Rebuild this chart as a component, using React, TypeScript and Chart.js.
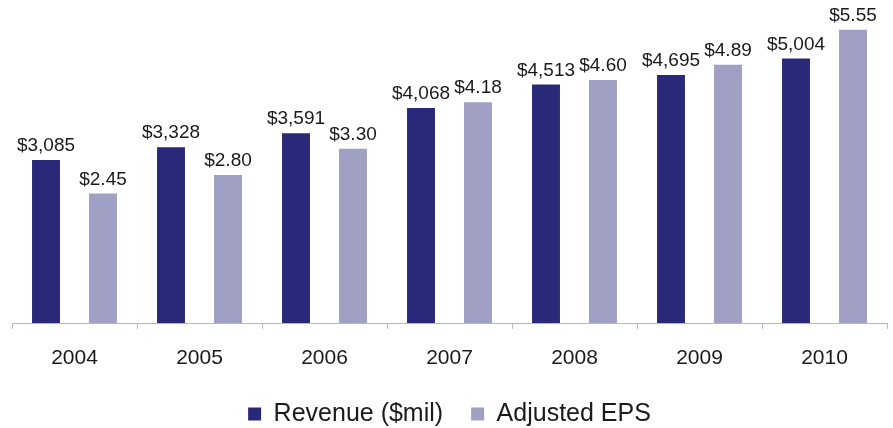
import React, { useEffect, useRef } from "react";
import { Chart, registerables } from "chart.js";

Chart.register(...registerables);

const years = ["2004", "2005", "2006", "2007", "2008", "2009", "2010"];
const revenue = [3085, 3328, 3591, 4068, 4513, 4695, 5004];
const eps = [2.45, 2.8, 3.3, 4.18, 4.6, 4.89, 5.55];
const revenueLabels = ["$3,085", "$3,328", "$3,591", "$4,068", "$4,513", "$4,695", "$5,004"];
const epsLabels = ["$2.45", "$2.80", "$3.30", "$4.18", "$4.60", "$4.89", "$5.55"];

const FONT = "'Liberation Sans', Arial, sans-serif";

const valueLabelPlugin = {
  id: "valueLabels",
  afterDatasetsDraw(chart: any) {
    const ctx = chart.ctx;
    ctx.save();
    ctx.font = `19px ${FONT}`;
    ctx.fillStyle = "#1a1a1a";
    ctx.textAlign = "center";
    ctx.textBaseline = "alphabetic";
    const labelSets = [revenueLabels, epsLabels];
    chart.data.datasets.forEach((_: any, di: number) => {
      const meta = chart.getDatasetMeta(di);
      meta.data.forEach((bar: any, i: number) => {
        ctx.fillText(labelSets[di][i], bar.x, bar.y - 9);
      });
    });
    ctx.restore();
  },
};

const legendShiftPlugin = {
  id: "legendShift",
  beforeUpdate(chart: any) {
    const lg = chart.legend;
    if (lg && !lg._shiftPatched) {
      const orig = lg.fit.bind(lg);
      lg.fit = function () {
        orig();
        this.height -= 8.5;
      };
      lg._shiftPatched = true;
    }
  },
};

export default function App() {
  const ref = useRef<HTMLCanvasElement | null>(null);
  useEffect(() => {
    if (!ref.current) return;
    const chart = new Chart(ref.current, {
      type: "bar",
      data: {
        labels: years,
        datasets: [
          {
            label: "Revenue ($mil)",
            data: revenue,
            backgroundColor: "#29297a",
            yAxisID: "yRev",
            barPercentage: 0.49,
            categoryPercentage: 0.912,
          },
          {
            label: "Adjusted EPS",
            data: eps,
            backgroundColor: "#a0a0c4",
            yAxisID: "yEps",
            barPercentage: 0.49,
            categoryPercentage: 0.912,
          },
        ],
      },
      options: {
        animation: false,
        responsive: true,
        maintainAspectRatio: false,
        layout: { padding: { left: 12, right: 6, top: 6, bottom: 0 } },
        plugins: {
          legend: {
            position: "bottom",
            labels: {
              boxWidth: 13,
              boxHeight: 13,
              padding: 28,
              color: "#1a1a1a",
              font: { family: FONT, size: 25 },
            },
          },
          tooltip: { enabled: false },
        },
        scales: {
          x: {
            grid: {
              display: true,
              drawOnChartArea: false,
              offset: true,
              tickLength: 6,
              color: "#b8b8b8",
            },
            border: { color: "#b8b8b8" },
            ticks: {
              color: "#1a1a1a",
              padding: 17,
              font: { family: FONT, size: 21 },
            },
            afterFit: (scale: any) => {
              scale.height = 50.5;
            },
          },
          yRev: { display: false, min: 0, max: 6000 },
          yEps: { display: false, min: 0, max: 6 },
        },
      },
      plugins: [valueLabelPlugin, legendShiftPlugin],
    });
    return () => chart.destroy();
  }, []);
  return (
    <div style={{ position: "absolute", left: 0, top: 0, width: 893, height: 428, background: "#fff" }}>
      <canvas ref={ref} />
    </div>
  );
}
